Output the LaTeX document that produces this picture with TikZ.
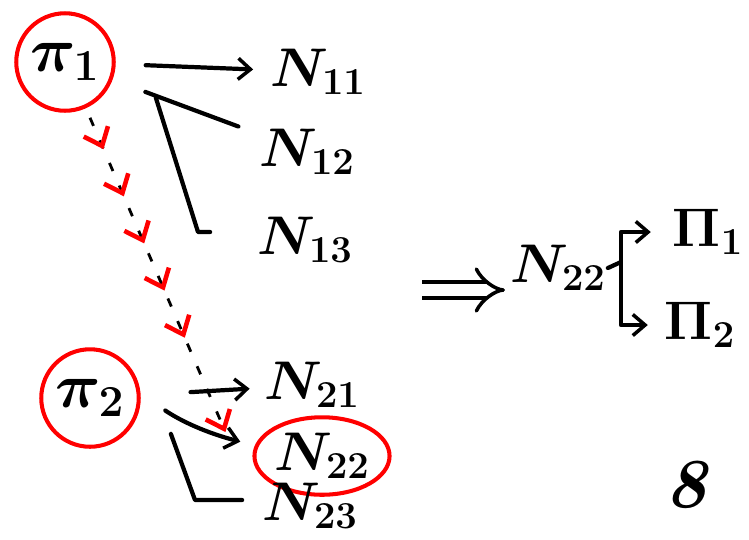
\RequirePackage{fix-cm}
\documentclass[tikz,border=0pt]{standalone}
\usepackage{amsmath}
\usepackage{tikz}
\usetikzlibrary{arrows.meta,shapes.geometric,decorations.markings}
\newcommand{\treept}[4][]{\node[#1] at (#2) (#3) {#4}}
\tikzset{
  hand/.style={line width=2.4pt,line cap=round,line join=round},
  tip/.style={-{Straight Barb[length=7pt,width=12pt,line width=2pt]}},
  lbl/.style={font=\fontsize{31}{36}\selectfont\boldmath,inner sep=1pt},
  proc/.style={circle,draw=red,line width=2.3pt,minimum size=1.95cm,inner sep=0pt,
    font=\fontsize{36}{40}\selectfont\boldmath},
  ring/.style={ellipse,draw=red,line width=2.3pt,minimum width=2.3cm,minimum height=1.55cm,inner sep=0pt},
  chain/.style={line width=1.6pt,dash pattern=on 5pt off 9pt,
    -{Straight Barb[color=red,length=9pt,width=15pt,line width=2.6pt]},
    postaction={decorate},
    decoration={markings,mark=between positions 0.1 and 0.7 step 0.15 with
      {\arrow[red,line width=2.6pt]{Straight Barb[length=9pt,width=15pt]}}}},
}
\begin{document}
\begin{tikzpicture}[x=0.02cm,y=-0.02cm]
  \useasboundingbox (0,0) rectangle (749,539);
  \treept[proc]{65,62}{p1}{$\pi_1$};
  \treept[lbl]{318,72}{n11}{$N_{11}$};
  \treept[lbl]{307,152}{n12}{$N_{12}$};
  \treept[lbl]{305,240}{n13}{$N_{13}$};
  \treept[proc]{90,398}{p2}{$\pi_2$};
  \treept[lbl]{312,385}{n21}{$N_{21}$};
  \treept[lbl,ring]{322,456}{n22}{$N_{22}$};
  \treept[lbl]{310,506}{n23}{$N_{23}$};
  \treept[lbl]{558,268}{n22b}{$N_{22}$};
  \treept[lbl]{708,232}{pi1}{$\Pi_1$};
  \treept[lbl]{700,325}{pi2}{$\Pi_2$};
  \treept[font=\fontsize{40}{44}\selectfont\bfseries\itshape]{686,485}{pg}{8};
  \coordinate (k13) at (198,232);
  \coordinate (k23) at (195,500);
  \coordinate (ia) at (422,290);
  \coordinate (ib) at (505,290);
  \coordinate (br) at (621,262);
  \draw[hand,tip,shorten <=0.6cm,shorten >=0.3cm] (p1) -- (n11);
  \draw[hand,shorten <=0.7cm,shorten >=0.4cm] (p1) -- (n12);
  \draw[hand,shorten >=0.9cm] ([xshift=1.1cm]p1.south east) -- (k13) -- (k13 -| n13.west);
  \draw[chain] ([xshift=0.5cm,yshift=-0.1cm]p1.south) -- ([xshift=-0.54cm,yshift=0.48cm]n22.west);
  \draw[hand,tip,shorten <=1cm,shorten >=0.25cm] (p2) -- (n21);
  \draw[hand,tip,shorten <=0.6cm,shorten >=0.3cm] (p2.5) to[bend right=10] (n22);
  \draw[hand,shorten >=0.36cm] ([xshift=0.9cm]p2.south east) -- (k23) -- (k23 -| n23.west);
  \draw[line width=2pt,double,double distance=7pt,-{Implies}] (ia) -- (ib);
  \draw[hand] (n22b.east) -- (br);
  \draw[hand,tip,shorten >=0.4cm] (br) |- (pi1);
  \draw[hand,tip,shorten >=0.3cm] (br) |- (pi2);
\end{tikzpicture}
\end{document}
